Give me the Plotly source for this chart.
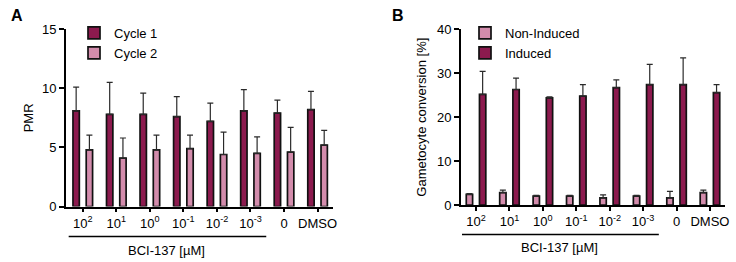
import plotly.graph_objects as go

# ---------------- data ----------------
categories = ["10<sup>2</sup>", "10<sup>1</sup>", "10<sup>0</sup>", "10<sup>-1</sup>",
              "10<sup>-2</sup>", "10<sup>-3</sup>", "0", "DMSO"]

# Panel A: PMR
cycle1 = [8.1, 7.8, 7.8, 7.6, 7.2, 8.1, 7.9, 8.2]
cycle1_err = [2.0, 2.7, 1.8, 1.7, 1.55, 1.8, 1.1, 1.55]
cycle2 = [4.8, 4.1, 4.8, 4.9, 4.4, 4.5, 4.6, 5.2]
cycle2_err = [1.25, 1.7, 1.25, 1.15, 1.9, 1.4, 2.1, 1.25]

# Panel B: Gametocyte conversion [%]
non_induced = [2.4, 2.8, 2.0, 2.0, 1.6, 2.0, 1.6, 2.8]
non_induced_err = [0.2, 0.6, 0.2, 0.2, 0.7, 0.2, 1.5, 0.6]
induced = [25.2, 26.3, 24.4, 24.8, 26.7, 27.4, 27.4, 25.6]
induced_err = [5.2, 2.6, 0.2, 2.6, 1.8, 4.6, 6.1, 1.8]

bracket_label = "BCI-137 [µM]"

# ---------------- style ----------------
DARK = "#8C1A4E"
LIGHT = "#D38CAC"
OUTLINE = "#111111"
ERRC = "#2a2a2a"
FONT = "Liberation Sans, Arial, Helvetica, sans-serif"
W, H = 736, 262


def px_x(p):
    return p / W


def px_y(p):
    return 1 - p / H


def bar(name, y, err, color, xa, ya, legend):
    return go.Bar(
        name=name, x=categories, y=y, xaxis=xa, yaxis=ya, legend=legend,
        marker=dict(color=color, line=dict(color=OUTLINE, width=1.7)),
        error_y=dict(type="data", array=err, arrayminus=[0] * len(err), symmetric=False,
                     color=ERRC, thickness=1.2, width=3),
    )


fig = go.Figure()
fig.add_trace(bar("Cycle 1", cycle1, cycle1_err, DARK, "x", "y", "legend"))
fig.add_trace(bar("Cycle 2", cycle2, cycle2_err, LIGHT, "x", "y", "legend"))
fig.add_trace(bar("Non-Induced", non_induced, non_induced_err, LIGHT, "x2", "y2", "legend2"))
fig.add_trace(bar("Induced", induced, induced_err, DARK, "x2", "y2", "legend2"))

axis_common = dict(showline=True, linecolor="black", linewidth=1.7, ticks="outside",
                   tickcolor="black", tickwidth=1.6, showgrid=False, zeroline=False,
                   automargin=False,
                   tickfont=dict(size=13, color="black", family=FONT))

fig.update_layout(
    template="none",
    width=W, height=H, margin=dict(l=0, r=0, t=0, b=0, autoexpand=False),
    paper_bgcolor="white", plot_bgcolor="white",
    font=dict(family=FONT, size=13, color="black"),
    barmode="group", bargap=0.21, bargroupgap=0.52,
    xaxis=dict(domain=[px_x(66), px_x(333)], anchor="y", type="category",
               range=[-0.5, 7.46], ticklen=4, **axis_common),
    yaxis=dict(domain=[px_y(206.5), px_y(29.3)], anchor="x", range=[0, 15], dtick=5,
               ticklen=5, title=dict(text="PMR", standoff=6,
                                     font=dict(size=13, color="black", family=FONT)),
               **axis_common),
    xaxis2=dict(domain=[px_x(461), px_x(725)], anchor="y2", type="category",
                range=[-0.45, 7.45], ticklen=4, **axis_common),
    yaxis2=dict(domain=[px_y(205), px_y(29.3)], anchor="x2", range=[0, 40], dtick=10,
                ticklen=5, title=dict(text="Gametocyte conversion [%]", standoff=8,
                                      font=dict(size=13, color="black", family=FONT)),
                **axis_common),
    legend=dict(x=px_x(74), y=px_y(18), xanchor="left", yanchor="top",
                bgcolor="rgba(0,0,0,0)", font=dict(size=13, color="black", family=FONT),
                tracegroupgap=0),
    legend2=dict(x=px_x(465), y=px_y(18), xanchor="left", yanchor="top",
                 bgcolor="rgba(0,0,0,0)", font=dict(size=13, color="black", family=FONT),
                 tracegroupgap=0),
    showlegend=True,
)

# bracket lines under the BCI-137 concentrations
for xr, y_line, y_text in (("x", 236.5, 250), ("x2", 234.5, 247)):
    fig.add_shape(type="line", xref=xr, yref="paper", x0=-0.42, x1=5.47,
                  y0=px_y(y_line), y1=px_y(y_line), line=dict(color="black", width=1.6))
    fig.add_annotation(xref=xr, yref="paper", x=2.5, y=px_y(y_text), text=bracket_label,
                       showarrow=False, font=dict(size=13, color="black", family=FONT),
                       xanchor="center", yanchor="middle")

# panel letters
for letter, xp in (("A", 17), ("B", 398)):
    fig.add_annotation(xref="paper", yref="paper", x=px_x(xp), y=px_y(15), text=f"<b>{letter}</b>",
                       showarrow=False, font=dict(size=16, color="black", family=FONT),
                       xanchor="center", yanchor="middle")

fig.write_html("out.html", config={"displayModeBar": False},
               post_script="document.body.style.margin='0px';document.body.style.padding='0px';")
